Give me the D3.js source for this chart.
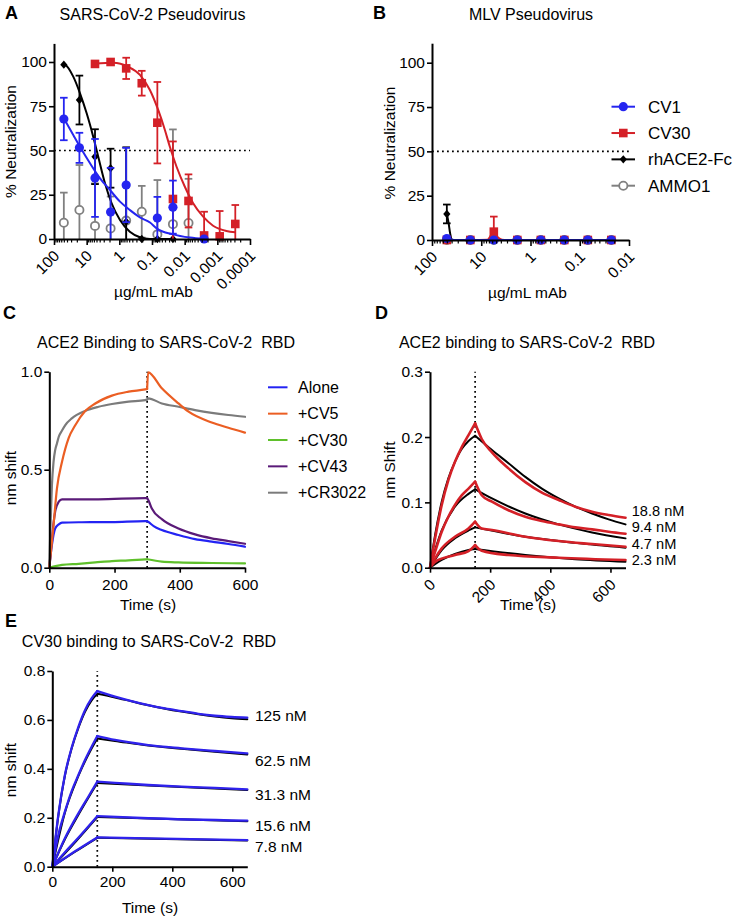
<!DOCTYPE html>
<html><head><meta charset="utf-8">
<script src="https://cdn.jsdelivr.net/npm/d3@7/dist/d3.min.js"></script>
<style>
html,body{margin:0;padding:0;background:#fff;}
svg{display:block;}
</style></head>
<body>
<svg id="fig" width="738" height="919" xmlns="http://www.w3.org/2000/svg"></svg>
<script>
const FONT = '"Liberation Sans", Arial, Helvetica, sans-serif';

// ================= DATA =================
// Panel A: SARS-CoV-2 pseudovirus neutralization (3-fold dilutions, µg/mL)
const concA = [50, 16.67, 5.556, 1.852, 0.6173, 0.2058, 0.06859, 0.02286, 0.007621, 0.00254, 0.000847, 0.000282];
const cv1A      = [67.8, 51.5, 34.5, 15.2, 30.5, null, 11.8, 18.0, null, 0, null, null];
const cv1A_sd   = [12, 8.5, 22, 25, 21, null, 12, 15, null, 0, null, null];
const cv30A     = [null, null, 98.9, 100, 96.4, 88.0, 65.7, 22.6, 21.5, 2.0, 1.5, 8.5];
const cv30A_sd  = [null, null, 0, 0, 6, 7, 23, 32.5, 15, 13.4, 14.3, 10.7];
const ace2A     = [98.5, 78.5, 46.5, 40.0, 9.8, 0, 0, 0, null, null, null, null];
const ace2A_sd  = [0, 13.8, 15.5, 11, 42, 0, 0, 0, null, null, null, null];
const ammo1A    = [9.2, 16.4, 7.4, 6.0, 10.4, 15.4, 2.6, 8.4, 9.0, null, null, null];
const ammo1A_sd = [17, 25.4, 24, 18, 19, 14.6, 30.7, 53.5, 25, null, null, null];
// fitted curves: [conc, % neutralization]
const ace2FitA = [[50,98.7],[46.1,98.5],[25.7,91.7],[16,82.3],[10,71],[6.3,57.8],[4.42,46.5],[2.75,31.5],[1.72,20.2],[0.955,10.7],[0.477,4.1],[0.234,1],[0.115,0],[0.02286,0]];
const cv1FitA  = [[50,68.2],[25.7,58.8],[16,52.1],[7.9,42.8],[3.9,34.3],[1.94,27.7],[0.955,21.1],[0.477,16.4],[0.234,12.2],[0.115,9.3],[0.072,6.0],[0.0227,2.6],[0.0069,0.8],[0.00254,0]];
const cv30FitA = [[5.556,99.2],[1.54,99.6],[0.535,97.3],[0.234,92.7],[0.116,84.2],[0.0646,72.9],[0.0403,61.6],[0.0284,52.1],[0.0177,40.8],[0.00987,29.5],[0.0055,20.2],[0.00272,12.6],[0.00135,7.5],[0.000525,4.5],[0.000282,3.8]];
const majorTicksA = [100, 10, 1, 0.1, 0.01, 0.001, 0.0001];
const tickLabelsA = ["100", "10", "1", "0.1", "0.01", "0.001", "0.0001"];
const yTicksAB = [0, 25, 50, 75, 100];

// Panel B: MLV pseudovirus
const concB = [50, 16.67, 5.556, 1.852, 0.6173, 0.2058, 0.06859, 0.02286];
const cv1B      = [0.8, 0, 0, 0, 0, 0, 0, 0];
const cv30B     = [0, 0, 4.7, 0, 0, 0, 0, 0];
const cv30B_sd  = [0, 0, 8.5, 0, 0, 0, 0, 0];
const ace2B     = [14.7, 0, 0, 0, 0, 0, 0, 0];
const ace2B_sd  = [5.3, 0, 0, 0, 0, 0, 0, 0];
const ammo1B    = [0, 0, 0, 0, 0, 0, 0, 0];
const ace2FitB = [[50,14.7],[46,9.5],[43,4],[40,0.5],[37,0],[0.02286,0]];
const cv30FitB = [[50,0],[16.67,0],[7.5,0.2],[5.556,4.7],[4.5,1.2],[3.8,0.2],[3,0],[0.02286,0]];
const cv1FitB  = [[50,0.8],[40,0.2],[30,0],[0.02286,0]];
const majorTicksB = [100, 10, 1, 0.1, 0.01];
const tickLabelsB = ["100", "10", "1", "0.1", "0.01"];
const legendB = ["CV1", "CV30", "rhACE2-Fc", "AMMO1"];

// Panel C: ACE2 binding to RBD (time s, nm shift) – association / dissociation
const aloneC_a  = [[0,0],[8,0.116],[18,0.2],[29,0.221],[39,0.23],[100,0.232],[192,0.233],[294,0.238],[300,0.238]];
const aloneC_d  = [[300,0.238],[305,0.232],[320,0.212],[345,0.192],[396,0.167],[447,0.146],[498,0.133],[549,0.121],[600,0.107]];
const cv5C_a    = [[0,0],[5,0.08],[13,0.218],[23.5,0.405],[39,0.54],[59,0.66],[80,0.728],[110,0.799],[141,0.838],[192,0.878],[243,0.898],[294,0.91],[300,0.912]];
const cv5C_d    = [[300,0.912],[303,0.997],[345,0.915],[396,0.838],[427,0.796],[498,0.741],[549,0.714],[600,0.689]];
const cv30C_a   = [[0,0],[39,0.014],[90,0.02],[141,0.027],[192,0.034],[243,0.037],[294,0.0425],[300,0.043]];
const cv30C_d   = [[300,0.043],[345,0.031],[396,0.027],[498,0.024],[600,0.022]];
const cv43C_a   = [[0,0],[8,0.15],[18,0.286],[29,0.337],[39,0.349],[150,0.349],[294,0.355],[300,0.355]];
const cv43C_d   = [[300,0.355],[305,0.34],[314,0.303],[345,0.248],[396,0.2],[447,0.17],[498,0.15],[549,0.136],[600,0.122]];
const cr3022C_a = [[0,0],[3,0.18],[8,0.42],[13,0.54],[18,0.6],[23.5,0.634],[29,0.668],[39,0.7],[49,0.728],[69,0.762],[110,0.8],[151,0.821],[192,0.835],[243,0.847],[294,0.855],[300,0.858]];
const cr3022C_d = [[300,0.858],[303,0.864],[345,0.838],[396,0.821],[447,0.804],[498,0.79],[549,0.779],[600,0.77]];
const legendC = ["Alone", "+CV5", "+CV30", "+CV43", "+CR3022"];

// Panel D: ACE2 binding kinetics (red = data, black = fit)
const r188D_a = [[0,0],[17,0.045],[39,0.096],[61,0.134],[83,0.162],[106,0.185],[128,0.203],[150,0.221]];
const r188D_d = [[150,0.221],[172,0.197],[206,0.1765],[261,0.152],[317,0.131],[372,0.115],[428,0.1036],[483,0.0934],[539,0.0857],[594,0.0806],[650,0.0765]];
const f188D_a = [[0,0],[17,0.05],[39,0.101],[61,0.137],[83,0.162],[106,0.182],[128,0.194],[150,0.202]];
const f188D_d = [[150,0.202],[206,0.18],[261,0.16],[317,0.139],[372,0.121],[428,0.106],[483,0.0934],[539,0.083],[594,0.074],[650,0.0663]];
const r94D_a  = [[0,0],[17,0.0245],[39,0.055],[61,0.078],[83,0.096],[106,0.111],[128,0.121],[150,0.1316]];
const r94D_d  = [[150,0.1316],[172,0.111],[206,0.101],[261,0.088],[317,0.078],[372,0.0714],[428,0.0663],[483,0.0617],[539,0.0587],[594,0.0551],[650,0.052]];
const f94D_a  = [[0,0],[17,0.027],[39,0.057],[83,0.0934],[128,0.113],[150,0.12]];
const f94D_d  = [[150,0.12],[206,0.106],[317,0.083],[428,0.0663],[539,0.054],[650,0.0449]];
const r47D_a  = [[0,0],[17,0.0143],[39,0.0296],[83,0.0474],[128,0.06],[150,0.0704]];
const r47D_d  = [[150,0.0704],[172,0.06],[206,0.0577],[317,0.0474],[428,0.0408],[539,0.0362],[650,0.032]];
const f47D_a  = [[0,0],[39,0.027],[83,0.045],[128,0.057],[150,0.0617]];
const f47D_d  = [[150,0.0617],[317,0.0474],[483,0.038],[650,0.0306]];
const r23D_a  = [[0,0],[17,0.009],[83,0.0194],[128,0.0255],[150,0.0347]];
const r23D_d  = [[150,0.0347],[172,0.026],[261,0.0194],[428,0.0153],[650,0.0117]];
const f23D_a  = [[0,0],[39,0.012],[83,0.021],[128,0.027],[150,0.0286]];
const f23D_d  = [[150,0.0286],[317,0.0194],[483,0.013],[650,0.0092]];
const labelsD = ["18.8 nM", "9.4 nM", "4.7 nM", "2.3 nM"];

// Panel E: CV30 binding kinetics (blue = data, black = fit)
const b125E_a = [[0,0],[20,0.211],[42,0.375],[64,0.484],[87,0.572],[109,0.64],[131,0.688],[150,0.718]];
const b125E_d = [[150,0.718],[209,0.695],[264,0.677],[320,0.661],[376,0.647],[431,0.636],[487,0.625],[542,0.617],[598,0.612],[650,0.609]];
const f125E_a = [[0,0],[20,0.207],[42,0.372],[64,0.481],[87,0.567],[109,0.633],[131,0.68],[150,0.707]];
const f125E_d = [[150,0.707],[209,0.692],[264,0.676],[320,0.66],[376,0.646],[431,0.634],[487,0.623],[542,0.614],[598,0.607],[650,0.603]];
const b625E_a = [[0,0],[20,0.129],[42,0.225],[64,0.307],[87,0.375],[109,0.436],[131,0.49],[150,0.534]];
const b625E_d = [[150,0.534],[209,0.518],[320,0.497],[431,0.484],[542,0.473],[650,0.463]];
const f625E_a = [[0,0],[42,0.221],[87,0.371],[131,0.483],[150,0.524]];
const f625E_d = [[150,0.524],[209,0.514],[320,0.495],[431,0.482],[542,0.47],[650,0.459]];
const b313E_a = [[0,0],[42,0.116],[87,0.218],[120,0.286],[150,0.3475]];
const b313E_d = [[150,0.3475],[209,0.343],[320,0.334],[431,0.327],[542,0.322],[650,0.316]];
const f313E_a = [[0,0],[42,0.112],[87,0.212],[150,0.342]];
const f313E_d = [[150,0.342],[320,0.332],[650,0.314]];
const b156E_a = [[0,0],[40,0.056],[76,0.104],[150,0.207]];
const b156E_d = [[150,0.207],[320,0.198],[650,0.188]];
const f156E_a = [[0,0],[76,0.1],[150,0.203]];
const f156E_d = [[150,0.203],[650,0.186]];
const b78E_a  = [[0,0],[76,0.063],[150,0.12]];
const b78E_d  = [[150,0.12],[320,0.116],[650,0.109]];
const f78E_a  = [[0,0],[76,0.061],[150,0.118]];
const f78E_d  = [[150,0.118],[650,0.107]];
const labelsE = ["125 nM", "62.5 nM", "31.3 nM", "15.6 nM", "7.8 nM"];

// ================= COLOURS =================
const BLUE = "#2525f0", RED = "#d42027", GRAY = "#808080", BLACK = "#000";
const C_ORANGE = "#eb5e23", C_GREEN = "#5fc02b", C_PURPLE = "#5a1a78", C_GRAY = "#7b7b7b", C_BLUE = "#2323f3";
const E_BLUE = "#2f22ec";

// ================= HELPERS =================
const svg = d3.select("#fig").attr("font-family", FONT);

function addText(x, y, s, size, anchor, bold) {
  const t = svg.append("text").attr("x", x).attr("y", y).attr("font-size", size)
    .attr("fill", "#000").style("white-space", "pre").text(s);
  if (anchor) t.attr("text-anchor", anchor);
  if (bold) t.attr("font-weight", "bold");
  return t;
}
function addVText(x, y, s, size) {
  svg.append("text").attr("transform", `translate(${x},${y}) rotate(-90)`)
    .attr("text-anchor", "middle").attr("font-size", size).attr("fill", "#000").text(s);
}
function styleAxis(g) {
  g.attr("font-family", FONT).attr("font-size", 15.5);
  g.select(".domain").attr("stroke", "#000").attr("stroke-width", 2);
  g.selectAll(".tick line").attr("stroke", "#000").attr("stroke-width", 1.6);
  g.selectAll(".tick text").attr("fill", "#000");
}
function yAxis(y, x0, ticks, fmt) {
  const g = svg.append("g").attr("transform", `translate(${x0},0)`)
    .call(d3.axisLeft(y).tickValues(ticks).tickFormat(fmt).tickSize(5).tickPadding(2).tickSizeOuter(0));
  styleAxis(g);
  return g;
}
function rotateLabels(g) {
  g.selectAll(".tick text").attr("x", 0).attr("y", 0).attr("dy", "0.35em")
    .attr("text-anchor", "end").attr("transform", "translate(2,14) rotate(-45)");
}
function linXAxis(x, y0, ticks, pad, rotated) {
  const g = svg.append("g").attr("transform", `translate(0,${y0})`)
    .call(d3.axisBottom(x).tickValues(ticks).tickFormat(d3.format("d")).tickSize(5).tickPadding(pad).tickSizeOuter(0));
  styleAxis(g);
  if (rotated) rotateLabels(g);
  return g;
}
function logXAxis(x, y0, majors, labels) {
  const idx = v => majors.findIndex(m => Math.abs(Math.log10(v) - Math.log10(m)) < 1e-6);
  const dom = x.domain();
  const lo = Math.min(...dom) * 0.999, hi = Math.max(...dom) * 1.001;
  const ticks = x.ticks().filter(v => v >= lo && v <= hi);
  const g = svg.append("g").attr("transform", `translate(0,${y0})`)
    .call(d3.axisBottom(x).tickValues(ticks).tickSize(6).tickSizeOuter(0)
      .tickFormat(v => { const i = idx(v); return i >= 0 ? labels[i] : ""; }));
  styleAxis(g);
  g.selectAll(".tick").filter(v => idx(v) < 0).select("line").attr("y2", 3.5).attr("stroke-width", 1.2);
  rotateLabels(g);
  return g;
}
function marker(g, shape, cx, cy, color) {
  if (shape === "circle") g.append("circle").attr("cx", cx).attr("cy", cy).attr("r", 4.6).attr("fill", color);
  else if (shape === "square") g.append("rect").attr("x", cx - 4.3).attr("y", cy - 4.3).attr("width", 8.6).attr("height", 8.6).attr("fill", color);
  else if (shape === "diamond") g.append("path").attr("d", "M0,-4.2L3.6,0L0,4.2L-3.6,0Z").attr("transform", `translate(${cx},${cy})`).attr("fill", color);
  else if (shape === "open") g.append("circle").attr("cx", cx).attr("cy", cy).attr("r", 4.1).attr("fill", "#fff").attr("stroke", color).attr("stroke-width", 1.8);
}
function doseSeries(x, y, conc, vals, sds, color, shape, fit) {
  const g = svg.append("g");
  if (fit) {
    const sorted = fit.slice().sort((a, b) => x(a[0]) - x(b[0]));
    g.append("path").attr("d", d3.line().x(d => x(d[0])).y(d => y(d[1])).curve(d3.curveMonotoneX)(sorted))
      .attr("fill", "none").attr("stroke", color).attr("stroke-width", 2);
  }
  conc.forEach((c, i) => {
    const v = vals[i]; if (v == null) return;
    const sd = sds ? (sds[i] || 0) : 0;
    if (sd > 0) {
      const top = v + sd, bot = Math.max(0, v - sd), cx = x(c);
      g.append("line").attr("x1", cx).attr("x2", cx).attr("y1", y(bot)).attr("y2", y(top)).attr("stroke", color).attr("stroke-width", 1.8);
      g.append("line").attr("x1", cx - 3.8).attr("x2", cx + 3.8).attr("y1", y(top)).attr("y2", y(top)).attr("stroke", color).attr("stroke-width", 1.8);
      if (v - sd > 0) g.append("line").attr("x1", cx - 3.8).attr("x2", cx + 3.8).attr("y1", y(bot)).attr("y2", y(bot)).attr("stroke", color).attr("stroke-width", 1.8);
    }
  });
  conc.forEach((c, i) => { const v = vals[i]; if (v == null) return; marker(g, shape, x(c), y(v), color); });
}
function trace(x, y, parts, color, width) {
  const line = d3.line().x(d => x(d[0])).y(d => y(d[1])).curve(d3.curveMonotoneX);
  parts.forEach(p => svg.append("path").attr("d", line(p)).attr("fill", "none")
    .attr("stroke", color).attr("stroke-width", width).attr("stroke-linejoin", "round").attr("stroke-linecap", "round"));
}
function dotted(x1, y1, x2, y2) {
  svg.append("line").attr("x1", x1).attr("y1", y1).attr("x2", x2).attr("y2", y2)
    .attr("stroke", "#000").attr("stroke-width", 1.7).attr("stroke-dasharray", "1.8,3.2");
}

// ================= PANEL A =================
const xA = d3.scaleLog().domain([100, 0.0001]).range([54, 250]);
const yA = d3.scaleLinear().domain([0, 110.5]).range([239, 43.4]);
addText(5, 19, "A", 18, null, true);
addText(152.5, 19.5, "SARS-CoV-2 Pseudovirus", 16, "middle");
dotted(xA(100), yA(50), xA(0.0001), yA(50));
doseSeries(xA, yA, concA, ammo1A, ammo1A_sd, GRAY, "open", null);
doseSeries(xA, yA, concA, ace2A, ace2A_sd, BLACK, "diamond", ace2FitA);
doseSeries(xA, yA, concA, cv30A, cv30A_sd, RED, "square", cv30FitA);
doseSeries(xA, yA, concA, cv1A, cv1A_sd, BLUE, "circle", cv1FitA);
yAxis(yA, 54, yTicksAB, d3.format("d"));
logXAxis(xA, 239, majorTicksA, tickLabelsA);
addVText(16, 141.5, "% Neutralization", 15.5);
addText(153.5, 296.5, "µg/mL mAb", 15.5, "middle");

// ================= PANEL B =================
const xB = d3.scaleLog().domain([100, 0.01]).range([432, 629]);
const yB = d3.scaleLinear().domain([0, 111]).range([240, 43.2]);
addText(373, 19, "B", 18, null, true);
addText(531, 19.5, "MLV Pseudovirus", 16, "middle");
dotted(xB(100), yB(50), xB(0.01), yB(50));
doseSeries(xB, yB, concB, ammo1B, null, GRAY, "open", null);
doseSeries(xB, yB, concB, ace2B, ace2B_sd, BLACK, "diamond", ace2FitB);
doseSeries(xB, yB, concB, cv30B, cv30B_sd, RED, "square", cv30FitB);
doseSeries(xB, yB, concB, cv1B, null, BLUE, "circle", cv1FitB);
yAxis(yB, 432, yTicksAB, d3.format("d"));
logXAxis(xB, 240, majorTicksB, tickLabelsB);
addVText(395, 143, "% Neutralization", 15.5);
addText(527.5, 298, "µg/mL mAb", 15.5, "middle");
// legend B
const legColorsB = [BLUE, RED, BLACK, GRAY], legShapesB = ["circle", "square", "diamond", "open"];
const legYB = d3.scalePoint().domain(legendB).range([106.7, 185.7]);
legendB.forEach((name, i) => {
  const yy = legYB(name);
  const g = svg.append("g");
  g.append("line").attr("x1", 611.5).attr("x2", 635).attr("y1", yy).attr("y2", yy).attr("stroke", legColorsB[i]).attr("stroke-width", 2);
  marker(g, legShapesB[i], 623.3, yy, legColorsB[i]);
  addText(648, yy, name, 17).attr("dy", "0.36em");
});

// ================= PANEL C =================
const xC = d3.scaleLinear().domain([0, 600]).range([49.3, 245]);
const yC = d3.scaleLinear().domain([0, 1]).range([567.7, 371.7]);
addText(3, 318.5, "C", 18, null, true);
addText(166, 348, "ACE2 Binding to SARS-CoV-2  RBD", 16, "middle");
dotted(xC(300), yC(0), xC(300), yC(1));
trace(xC, yC, [cv30C_a, cv30C_d], C_GREEN, 2.2);
trace(xC, yC, [aloneC_a, aloneC_d], C_BLUE, 2.2);
trace(xC, yC, [cv43C_a, cv43C_d], C_PURPLE, 2.2);
trace(xC, yC, [cr3022C_a, cr3022C_d], C_GRAY, 2.2);
trace(xC, yC, [cv5C_a, cv5C_d], C_ORANGE, 2.2);
yAxis(yC, 49.3, [0, 0.5, 1], d3.format(".1f"));
linXAxis(xC, 567.7, [0, 200, 400, 600], 6, false);
addVText(16, 478, "nm shift", 15.5);
addText(148, 610, "Time (s)", 15.5, "middle");
const legColorsC = [C_BLUE, C_ORANGE, C_GREEN, C_PURPLE, C_GRAY];
const legYC = d3.scalePoint().domain(legendC).range([387.3, 492.7]);
legendC.forEach((name, i) => {
  const yy = legYC(name);
  svg.append("line").attr("x1", 268).attr("x2", 287.5).attr("y1", yy).attr("y2", yy).attr("stroke", legColorsC[i]).attr("stroke-width", 2);
  addText(298, yy, name, 16).attr("dy", "0.36em");
});

// ================= PANEL D =================
const xD = d3.scaleLinear().domain([0, 650]).range([430, 625.5]);
const yD = d3.scaleLinear().domain([0, 0.3]).range([567.7, 371.7]);
addText(375, 318.5, "D", 18, null, true);
addText(527, 348, "ACE2 binding to SARS-CoV-2  RBD", 16, "middle");
dotted(xD(150), yD(0), xD(150), yD(0.3));
[[f188D_a, f188D_d], [f94D_a, f94D_d], [f47D_a, f47D_d], [f23D_a, f23D_d]].forEach(p => trace(xD, yD, p, BLACK, 2));
[[r188D_a, r188D_d], [r94D_a, r94D_d], [r47D_a, r47D_d], [r23D_a, r23D_d]].forEach(p => trace(xD, yD, p, RED, 2.6));
yAxis(yD, 430, [0, 0.1, 0.2, 0.3], d3.format(".1f"));
linXAxis(xD, 567.7, [0, 200, 400, 600], 3, true);
addVText(395, 470, "nm Shift", 15.5);
addText(528, 610, "Time (s)", 15.5, "middle");
const labYD = [515.5, 532, 548.5, 565];
labelsD.forEach((s, i) => addText(631.7, labYD[i], s, 14.6));

// ================= PANEL E =================
const xE = d3.scaleLinear().domain([0, 650]).range([52.3, 247.3]);
const yE = d3.scaleLinear().domain([0, 0.8]).range([866.7, 671]);
addText(5, 627, "E", 18, null, true);
addText(149, 646.7, "CV30 binding to SARS-CoV-2  RBD", 16, "middle");
dotted(xE(150), yE(0), xE(150), yE(0.8));
[[f125E_a, f125E_d], [f625E_a, f625E_d], [f313E_a, f313E_d], [f156E_a, f156E_d], [f78E_a, f78E_d]].forEach(p => trace(xE, yE, p, BLACK, 2));
[[b125E_a, b125E_d], [b625E_a, b625E_d], [b313E_a, b313E_d], [b156E_a, b156E_d], [b78E_a, b78E_d]].forEach(p => trace(xE, yE, p, E_BLUE, 2.3));
yAxis(yE, 52.3, [0, 0.2, 0.4, 0.6, 0.8], d3.format(".1f"));
linXAxis(xE, 866.7, [0, 200, 400, 600], 4, false);
addVText(16, 770, "nm shift", 15.5);
addText(150, 913, "Time (s)", 15.5, "middle");
const labYE = [720.7, 765.7, 800, 831, 851.5];
labelsE.forEach((s, i) => addText(255, labYE[i], s, 15.5));
</script>
</body></html>
